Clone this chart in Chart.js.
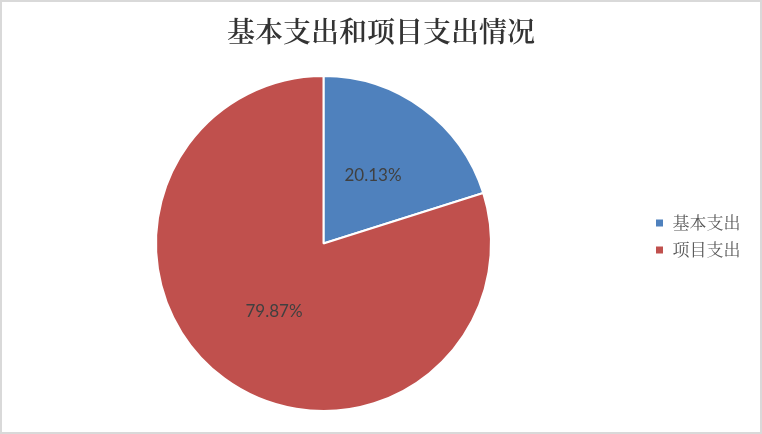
<!DOCTYPE html>
<html lang="zh-CN">
<head>
<meta charset="utf-8">
<title>基本支出和项目支出情况</title>
<script src="https://cdn.jsdelivr.net/npm/chart.js@4.4.1/dist/chart.umd.min.js"></script>
<style>
  html, body { margin: 0; padding: 0; background: #fff; }
  #chart { display: block; }
</style>
</head>
<body>
<canvas id="chart" width="762" height="434"></canvas>
<script>
const TITULO = '基本支出和项目支出情况';
const CATEGORIAS = ['基本支出', '项目支出'];
const VALORES = [20.13, 79.87];
const CORES = ['#4F81BD', '#C0504D'];

// moldura cinza e fundo branco
const molduraPlugin = {
  id: 'moldura',
  beforeDraw(chart) {
    const ctx = chart.ctx;
    ctx.save();
    ctx.fillStyle = '#fff';
    ctx.fillRect(0, 0, chart.width, chart.height);
    ctx.strokeStyle = '#d9d9d9';
    ctx.lineWidth = 2;
    ctx.strokeRect(1, 1, chart.width - 2, chart.height - 2);
    ctx.restore();
  }
};

// alarga a legenda para o título ficar centrado no canvas
const legendaLarguraPlugin = {
  id: 'legendaLargura',
  beforeInit(chart) {
    const fitOriginal = chart.legend.fit;
    chart.legend.fit = function fit() {
      fitOriginal.bind(chart.legend)();
      this.width += 9.5;
    };
  }
};

// rótulos de percentagem no meio de cada fatia
const rotulosPlugin = {
  id: 'rotulos',
  afterDatasetsDraw(chart) {
    const ctx = chart.ctx;
    const meta = chart.getDatasetMeta(0);
    ctx.save();
    ctx.font = '17px Lato, "Liberation Sans", sans-serif';
    ctx.fillStyle = '#404040';
    ctx.textAlign = 'center';
    ctx.textBaseline = 'middle';
    meta.data.forEach((arc, i) => {
      const pos = arc.tooltipPosition();
      ctx.fillText(`${VALORES[i].toFixed(2)}%`, pos.x, pos.y);
    });
    ctx.restore();
  }
};

const ctx = document.getElementById('chart').getContext('2d');
new Chart(ctx, {
  type: 'pie',
  data: {
    labels: CATEGORIAS,
    datasets: [{
      data: VALORES,
      backgroundColor: CORES,
      borderColor: '#fff',
      borderWidth: 2,
      hoverBorderWidth: 2,
      hoverOffset: 0
    }]
  },
  options: {
    responsive: false,
    animation: false,
    layout: { padding: { left: 2, right: 2, top: 0, bottom: 22 } },
    plugins: {
      title: {
        display: true,
        text: TITULO,
        color: '#333333',
        font: { family: '"Noto Serif CJK SC", "Noto Sans CJK SC", serif', size: 28, weight: 600, lineHeight: 1.2 },
        padding: { top: 15, bottom: 26.4 }
      },
      legend: {
        position: 'right',
        fullSize: false,
        title: { display: true, text: '', font: { size: 1, lineHeight: 1 }, padding: { top: -15, bottom: 0 } },
        labels: {
          boxWidth: 9,
          boxHeight: 9,
          padding: 10,
          color: '#595959',
          font: { family: '"Noto Serif CJK SC", "Noto Sans CJK SC", serif', size: 17 }
        }
      },
      tooltip: { enabled: false }
    }
  },
  plugins: [molduraPlugin, legendaLarguraPlugin, rotulosPlugin]
});
</script>
</body>
</html>
